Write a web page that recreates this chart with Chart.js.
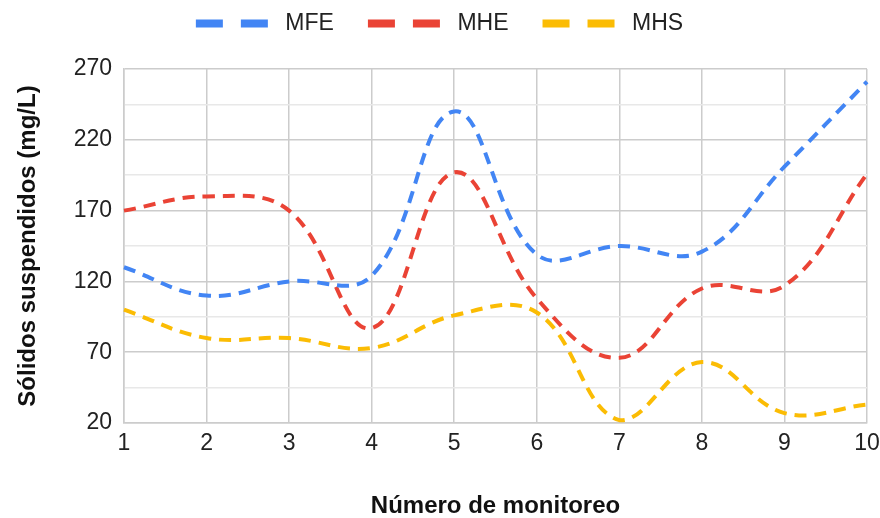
<!DOCTYPE html>
<html>
<head>
<meta charset="utf-8">
<script src="https://cdn.jsdelivr.net/npm/chart.js@4"></script>
<style>
  html, body { margin: 0; padding: 0; background: #fff; }
  #wrap { width: 880px; height: 518px; }
</style>
</head>
<body>
<div id="wrap"><canvas id="c" width="880" height="518"></canvas></div>
<script>
// Monitoring rounds and suspended-solids readings (mg/L) per station
const monitoreos = ['1', '2', '3', '4', '5', '6', '7', '8', '9', '10'];
const mfe = [130, 110, 120, 124, 240, 139, 145, 141, 201, 261];
const mhe = [170, 180, 170, 87, 197, 108, 66, 115, 117, 196];
const mhs = [100, 80, 80, 73, 96, 98, 22, 63, 27, 33];

const yMin = 20, yMax = 270, yStep = 25, yLabelStep = 50;

const FONT = "'Liberation Sans', Arial, sans-serif";

function serie(label, data, color) {
  return {
    label, data,
    borderColor: color,
    backgroundColor: color,
    borderWidth: 4,
    borderDash: [12, 8],
    pointRadius: 0,
    pointHoverRadius: 0,
    tension: 0.4,
    fill: false
  };
}

// Extra room between the legend row and the plot, and a small left shift of the row
const legendSpacing = {
  id: 'legendSpacing',
  beforeLayout(chart) {
    const lg = chart.legend;
    if (lg && !lg.__spaced) {
      const fit = lg.fit;
      lg.fit = function () {
        fit.call(this);
        this.height += 24;
        if (this.lineWidths && this.lineWidths.length) this.lineWidths[0] += 12;
      };
      lg.__spaced = true;
    }
  }
};

new Chart(document.getElementById('c'), {
  type: 'line',
  data: {
    labels: monitoreos,
    datasets: [
      serie('MFE', mfe, '#4285F4'),
      serie('MHE', mhe, '#EA4335'),
      serie('MHS', mhs, '#FBBC04')
    ]
  },
  plugins: [legendSpacing],
  options: {
    responsive: false,
    animation: false,
    layout: { padding: { top: 2, right: 13, left: 0, bottom: 0 } },
    plugins: {
      tooltip: { enabled: false },
      legend: {
        position: 'top',
        labels: {
          usePointStyle: true,
          pointStyle: 'line',
          pointStyleWidth: 102,
          boxHeight: 8,
          padding: 10,
          color: '#222',
          font: { family: FONT, size: 23 },
          generateLabels(chart) {
            return chart.data.datasets.map((ds, i) => ({
              text: ds.label,
              strokeStyle: ds.borderColor,
              fillStyle: ds.borderColor,
              lineWidth: 8,
              lineDash: [27, 18, 27, 30],
              lineDashOffset: 78,
              lineCap: 'butt',
              pointStyle: 'line',
              fontColor: '#222',
              datasetIndex: i
            }));
          }
        }
      }
    },
    scales: {
      x: {
        offset: false,
        grid: { color: '#cccccc', lineWidth: 1.5, drawTicks: false },
        border: { color: '#cccccc', width: 1.5 },
        ticks: { color: '#222', font: { family: FONT, size: 23 }, padding: 7, maxRotation: 0 },
        title: {
          display: true,
          text: 'Número de monitoreo',
          color: '#111',
          font: { family: FONT, size: 24, weight: 'bold' },
          padding: { top: 0, bottom: -3 }
        },
        afterFit(scale) {
          scale.height = 95;
          scale.paddingLeft = 0;
          scale.paddingRight = 0;
        }
      },
      y: {
        min: yMin,
        max: yMax,
        grid: {
          drawTicks: false,
          lineWidth: 1.5,
          color: ctx => ((ctx.tick.value - yMin) % yLabelStep === 0) ? '#cccccc' : '#e8e8e8'
        },
        border: { color: '#cccccc', width: 1.5 },
        ticks: {
          stepSize: yStep,
          color: '#222',
          font: { family: FONT, size: 23 },
          padding: 12,
          callback: v => ((v - yMin) % yLabelStep === 0) ? String(v) : ''
        },
        title: {
          display: true,
          text: 'Sólidos suspendidos (mg/L)',
          color: '#111',
          font: { family: FONT, size: 24, weight: 'bold' },
          padding: { top: 14, bottom: 0 }
        },
        afterFit(scale) { scale.width = 124; }
      }
    }
  }
});
</script>
</body>
</html>
